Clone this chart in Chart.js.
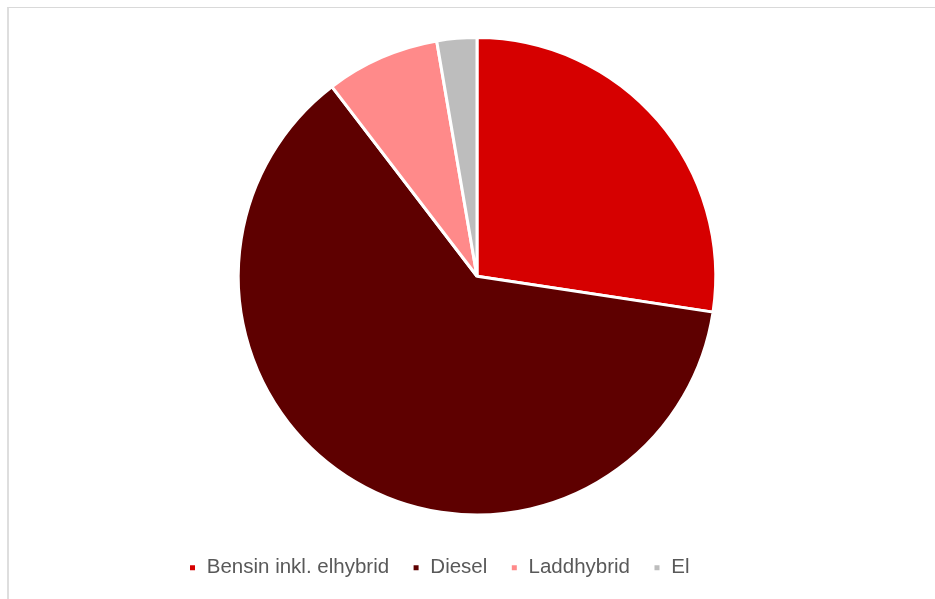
<!DOCTYPE html>
<html>
<head>
<meta charset="utf-8">
<script src="https://cdn.jsdelivr.net/npm/chart.js@4"></script>
<style>
  html, body { margin: 0; padding: 0; background: #fff; overflow: hidden; }
  .wrap { position: relative; width: 935px; height: 599px; }
  .frame { position: absolute; left: 7px; top: 7px; width: 1000px; height: 700px;
           border-top: 1px solid #d9d9d9; border-left: 2px solid #dedede; }
  canvas { position: absolute; left: 0; top: 0; }
</style>
</head>
<body>
<div class="wrap">
  <div class="frame"></div>
  <canvas id="pieChart" width="935" height="599"></canvas>
</div>
<script>
// Fuel type shares (%)
const labels = ['Bensin inkl. elhybrid', 'Diesel', 'Laddhybrid', 'El'];
const shares = [27.4, 62.2, 7.7, 2.7];
const colors = ['#d60000', '#5e0000', '#ff8a8a', '#bdbdbd'];

// Legend sits a bit left of the pie and further down in the original
const legendShift = {
  id: 'legendShift',
  afterLayout(chart) {
    const lg = chart.legend;
    if (!lg) return;
    lg.left -= 38; lg.right -= 38;
    lg.top += 18; lg.bottom += 18;
  }
};

new Chart(document.getElementById('pieChart'), {
  type: 'pie',
  data: {
    labels: labels,
    datasets: [{
      data: shares,
      backgroundColor: colors,
      borderColor: '#ffffff',
      borderWidth: 3
    }]
  },
  options: {
    responsive: false,
    animation: false,
    layout: { padding: { top: 36, bottom: 29, left: 120, right: 101 } },
    plugins: {
      legend: {
        position: 'bottom',
        labels: {
          boxWidth: 8,
          boxHeight: 8,
          padding: 23,
          color: '#595959',
          font: { family: '"Liberation Sans", Arial, sans-serif', size: 20.5 }
        }
      },
      tooltip: { enabled: false }
    }
  },
  plugins: [legendShift]
});
</script>
</body>
</html>
